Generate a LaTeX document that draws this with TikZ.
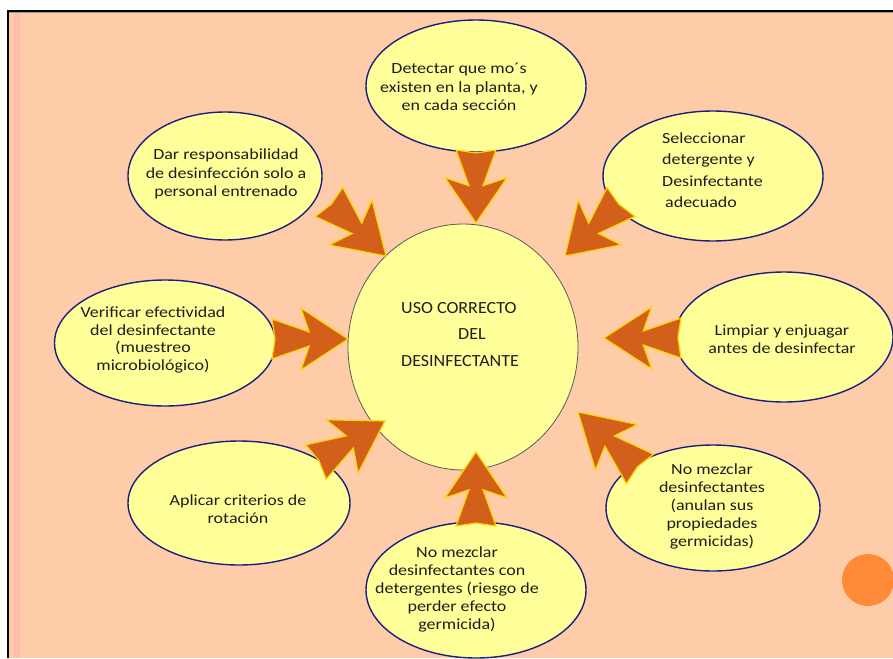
\documentclass[tikz,border=0pt]{standalone}
\usepackage{fontspec}
\setmainfont{Carlito}[FakeStretch=1.16]
\newfontfamily\ctrfont{Carlito}[FakeStretch=1.06]
\usetikzlibrary{shapes.geometric,calc}
\definecolor{peach}{RGB}{255,204,170}
\definecolor{pinkstripe}{RGB}{255,190,172}
\definecolor{bub}{RGB}{255,255,153}
\definecolor{navy}{RGB}{30,30,128}
\definecolor{arrowfill}{RGB}{210,96,26}
\definecolor{arrowedge}{RGB}{255,214,0}
\definecolor{dotcol}{RGB}{255,138,56}
\definecolor{txt}{RGB}{30,30,30}
\newcommand\blockarrow[2]{%
  \draw[bigarrow] ($(#1)!20pt!90:(#2)$) -- ($(#1)!0.49!(#2)!7pt!90:(#2)$)
    -- ($(#1)!0.38!(#2)!31pt!90:(#2)$) -- (#2)
    -- ($(#1)!0.38!(#2)!31pt!-90:(#2)$) -- ($(#1)!0.49!(#2)!7pt!-90:(#2)$)
    -- ($(#1)!20pt!-90:(#2)$) -- ($(#1)!0.04!(#2)$) -- cycle;}
\begin{document}
\begin{tikzpicture}[x=1pt,y=-1pt,
  bubble/.style={ellipse,draw=navy,line width=1.4pt,fill=bub,inner sep=0pt},
  hub/.style={ellipse,draw=black!65,line width=0.8pt,fill=bub,inner sep=0pt},
  txtnode/.style={align=center,inner sep=0pt,text=txt,font=\fontsize{15.5}{18.5}\selectfont},
  bigarrow/.style={fill=arrowfill,draw=arrowedge,line width=1.2pt,line join=miter}]
\useasboundingbox (0,0) rectangle (893,658);
\fill[white] (0,0) rectangle (893,658);
\fill[peach] (9,12) rectangle (893,658);
\fill[pinkstripe] (14,12) rectangle (20,658);
\draw[black,line width=2pt] (8,658) -- (8,11) -- (893,11);
\draw[black!40,line width=0.8pt] (9,12.6) -- (893,12.6);

\node[circle,fill=dotcol,minimum size=52pt,inner sep=0pt] (dot) at (868,580) {};

% bubbles
\node[hub,minimum width=230pt,minimum height=246pt] (c) at (463,347) {};
\node[bubble,minimum width=220pt,minimum height=132pt] (top) at (476,86) {};
\node[bubble,minimum width=194pt,minimum height=128pt] (tl) at (225,176) {};
\node[bubble,minimum width=220pt,minimum height=130pt] (tr) at (713,176) {};
\node[bubble,minimum width=221pt,minimum height=126pt] (lf) at (165,343) {};
\node[bubble,minimum width=218pt,minimum height=130pt] (rt) at (784,337) {};
\node[bubble,minimum width=222pt,minimum height=124pt] (bl) at (239,503) {};
\node[bubble,minimum width=214pt,minimum height=126pt] (br) at (713,508) {};
\node[bubble,minimum width=220pt,minimum height=136pt] (bt) at (476,590) {};

% arrow ends
\coordinate (a1) at (476,150); \coordinate (b1) at (476,223);
\coordinate (a2) at (329,202); \coordinate (b2) at (386,256);
\coordinate (a3) at (621,202); \coordinate (b3) at (565,256);
\coordinate (a4) at (272,339); \coordinate (b4) at (348,339);
\coordinate (a5) at (681,338); \coordinate (b5) at (604,338);
\coordinate (a6) at (316,462); \coordinate (b6) at (385,421);
\coordinate (a7) at (640,469); \coordinate (b7) at (578,412);
\coordinate (a8) at (476,526); \coordinate (b8) at (476,452);
\blockarrow{a1}{b1}
\blockarrow{a2}{b2}
\blockarrow{a3}{b3}
\blockarrow{a4}{b4}
\blockarrow{a5}{b5}
\blockarrow{a6}{b6}
\blockarrow{a7}{b7}
\blockarrow{a8}{b8}

% texts
\node[txtnode] (ttop) at (459,87) {Detectar que mo´s\\existen en la planta, y\\en cada sección};
\node[txtnode] (ttl) at (226,174) {Dar responsabilidad\\de desinfección solo a\\personal entrenado};
\node[txtnode,align=left,anchor=west,font=\fontsize{15.5}{21.5}\selectfont] (ttr) at (662,170) {Seleccionar\\detergente y\\Desinfectante\\\hspace*{3pt}adecuado};
\node[txtnode,font=\fontsize{15.5}{17.7}\selectfont] (tlf) at (153,340) {Verificar efectividad\\del desinfectante\\(muestreo\\microbiológico)};
\node[txtnode] (trt) at (782,339) {Limpiar y enjuagar\\antes de desinfectar};
\node[txtnode] (tbl) at (238,509) {Aplicar criterios de\\rotación};
\node[txtnode,font=\fontsize{15.5}{18}\selectfont] (tbr) at (712,506) {No mezclar\\desinfectantes\\(anulan sus\\propiedades\\germicidas)};
\node[txtnode,font=\fontsize{15.5}{18}\selectfont] (tbt) at (457,589) {No mezclar\\desinfectantes con\\detergentes (riesgo de\\perder efecto\\germicida)};
\node[txtnode,align=left,anchor=west,font=\ctrfont\fontsize{17}{26.5}\selectfont] (tc) at (401,334.5) {USO CORRECTO\\\hspace*{57pt}DEL\\DESINFECTANTE};
\end{tikzpicture}
\end{document}
